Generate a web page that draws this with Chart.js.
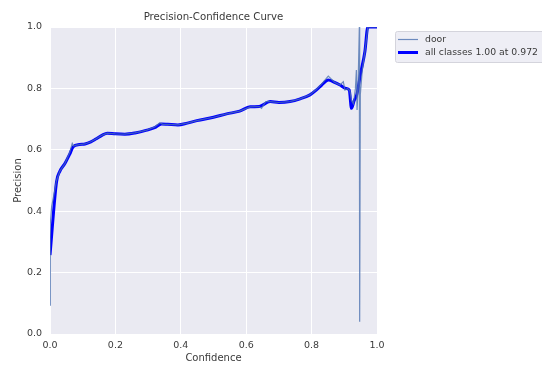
<!DOCTYPE html>
<html>
<head>
<meta charset="utf-8">
<script src="https://cdn.jsdelivr.net/npm/chart.js@4"></script>
<style>
  html, body { margin: 0; padding: 0; background: #ffffff; }
  #wrap { width: 542px; height: 369px; }
</style>
</head>
<body>
<div id="wrap"><canvas id="pc" width="542" height="369"></canvas></div>
<script>
// Precision vs. confidence for the "door" class and the mean over all classes
const titleText = 'Precision-Confidence Curve';
const xTitle = 'Confidence';
const yTitle = 'Precision';

const xTicks = [0, 0.2, 0.4, 0.6, 0.8, 1.0];
const yTicks = [0, 0.2, 0.4, 0.6, 0.8, 1.0];

const doorLabel = 'door';
const doorConf = [0, 0.001, 0.005, 0.015, 0.02, 0.03, 0.046, 0.06, 0.068, 0.072, 0.08, 0.09, 0.107, 0.125, 0.14, 0.16, 0.175, 0.2, 0.229, 0.26, 0.296, 0.32, 0.336, 0.345, 0.36, 0.391, 0.42, 0.449, 0.5, 0.54, 0.58, 0.612, 0.64, 0.647, 0.652, 0.66, 0.673, 0.70, 0.734, 0.765, 0.795, 0.815, 0.831, 0.851, 0.87, 0.887, 0.897, 0.902, 0.91, 0.917, 0.922, 0.928, 0.934, 0.937, 0.939, 0.942, 0.946, 0.947, 0.949, 0.955, 0.963, 0.972, 0.98, 1.0];
const doorPrec = [0.094, 0.36, 0.415, 0.47, 0.50, 0.53, 0.556, 0.59, 0.621, 0.612, 0.615, 0.617, 0.619, 0.626, 0.635, 0.648, 0.654, 0.652, 0.651, 0.655, 0.664, 0.674, 0.688, 0.683, 0.683, 0.681, 0.687, 0.695, 0.706, 0.717, 0.726, 0.740, 0.741, 0.735, 0.745, 0.757, 0.757, 0.754, 0.757, 0.766, 0.779, 0.797, 0.815, 0.840, 0.82, 0.811, 0.822, 0.795, 0.80, 0.792, 0.76, 0.75, 0.80, 0.86, 0.73, 0.80, 1.0, 0.04, 0.78, 0.86, 0.92, 1.0, 1.0, 1.0];

const allLabel = 'all classes 1.00 at 0.972';
const allConf = [0, 0.02, 0.03, 0.046, 0.06, 0.071, 0.09, 0.107, 0.125, 0.14, 0.16, 0.175, 0.2, 0.229, 0.26, 0.296, 0.32, 0.341, 0.36, 0.391, 0.42, 0.449, 0.5, 0.54, 0.58, 0.612, 0.64, 0.673, 0.70, 0.734, 0.765, 0.795, 0.815, 0.831, 0.851, 0.87, 0.887, 0.905, 0.915, 0.922, 0.93, 0.938, 0.95, 0.963, 0.972, 0.98, 1.0];
const allPrec = [0.257, 0.496, 0.53, 0.556, 0.585, 0.610, 0.617, 0.619, 0.626, 0.635, 0.648, 0.654, 0.652, 0.651, 0.655, 0.664, 0.672, 0.684, 0.683, 0.681, 0.687, 0.695, 0.706, 0.717, 0.726, 0.740, 0.741, 0.757, 0.754, 0.757, 0.766, 0.779, 0.795, 0.811, 0.827, 0.82, 0.811, 0.80, 0.795, 0.735, 0.76, 0.779, 0.85, 0.920, 1.0, 1.0, 1.0];

const pairs = (xs, ys) => xs.map((x, i) => ({ x: x, y: ys[i] }));

const FONT = 'DejaVu Sans';
const TEXT = '#3a3a3a';
const PANEL = '#eaeaf2';

// panel background behind the grid
const panelBg = {
  id: 'panelBg',
  beforeDraw(chart) {
    const a = chart.chartArea, c = chart.ctx;
    c.save();
    c.fillStyle = PANEL;
    c.fillRect(a.left, a.top, a.right - a.left, a.bottom - a.top);
    c.restore();
  }
};

// title centred over the panel, legend outside at the upper right
const decorations = {
  id: 'decorations',
  afterDraw(chart) {
    const a = chart.chartArea, c = chart.ctx;
    c.save();
    c.fillStyle = TEXT;
    c.font = '10.2px "' + FONT + '"';
    c.textAlign = 'center';
    c.textBaseline = 'middle';
    c.fillText(titleText, (a.left + a.right) / 2, 17);

    const bx = 395, by = 31, bw = 160, bh = 31;
    c.fillStyle = 'rgba(234,234,242,0.8)';
    c.strokeStyle = '#d4d4dc';
    c.lineWidth = 1;
    c.beginPath();
    c.roundRect(bx + 0.5, by + 0.5, bw, bh, 2);
    c.fill();
    c.stroke();

    c.font = '9.3px "' + FONT + '"';
    c.textAlign = 'left';
    chart.data.datasets.forEach((ds, i) => {
      const y = by + 8.5 + i * 13;
      c.strokeStyle = ds.borderColor;
      c.lineWidth = ds.borderWidth;
      c.beginPath();
      c.moveTo(398, y);
      c.lineTo(418, y);
      c.stroke();
      c.fillStyle = TEXT;
      c.fillText(ds.label, 425, y);
    });
    c.restore();
  }
};

new Chart(document.getElementById('pc'), {
  type: 'scatter',
  data: {
    datasets: [
      {
        label: doorLabel,
        data: pairs(doorConf, doorPrec),
        showLine: true,
        borderColor: 'rgba(76,114,176,0.8)',
        borderWidth: 1.2,
        pointRadius: 0,
        tension: 0,
        clip: 0
      },
      {
        label: allLabel,
        data: pairs(allConf, allPrec),
        showLine: true,
        borderColor: '#0000ff',
        borderWidth: 3,
        pointRadius: 0,
        cubicInterpolationMode: 'monotone',
        clip: 0
      }
    ]
  },
  options: {
    responsive: false,
    animation: false,
    events: [],
    layout: { padding: { top: 27, right: 165, left: 0, bottom: 0 } },
    plugins: {
      legend: { display: false },
      title: { display: false },
      tooltip: { enabled: false }
    },
    scales: {
      x: {
        type: 'linear',
        min: 0, max: 1,
        afterBuildTicks: s => { s.ticks = xTicks.map(v => ({ value: v })); },
        afterFit: s => { s.height = 35; },
        border: { display: false },
        grid: { color: '#ffffff', lineWidth: 1, drawTicks: false },
        ticks: {
          padding: 6,
          color: TEXT,
          font: { family: FONT, size: 9.5 },
          callback: v => v.toFixed(1)
        },
        title: {
          display: true,
          text: xTitle,
          color: TEXT,
          font: { family: FONT, size: 10 },
          padding: { top: 0, bottom: 5 }
        }
      },
      y: {
        type: 'linear',
        min: 0, max: 1,
        afterBuildTicks: s => { s.ticks = yTicks.map(v => ({ value: v })); },
        afterFit: s => { s.width = 50; },
        border: { display: false },
        grid: { color: '#ffffff', lineWidth: 1, drawTicks: false },
        ticks: {
          padding: 8,
          color: TEXT,
          font: { family: FONT, size: 9.5 },
          callback: v => v.toFixed(1)
        },
        title: {
          display: true,
          text: yTitle,
          color: TEXT,
          font: { family: FONT, size: 10 },
          padding: { top: 12, bottom: 0 }
        }
      }
    }
  },
  plugins: [panelBg, decorations]
});
</script>
</body>
</html>
